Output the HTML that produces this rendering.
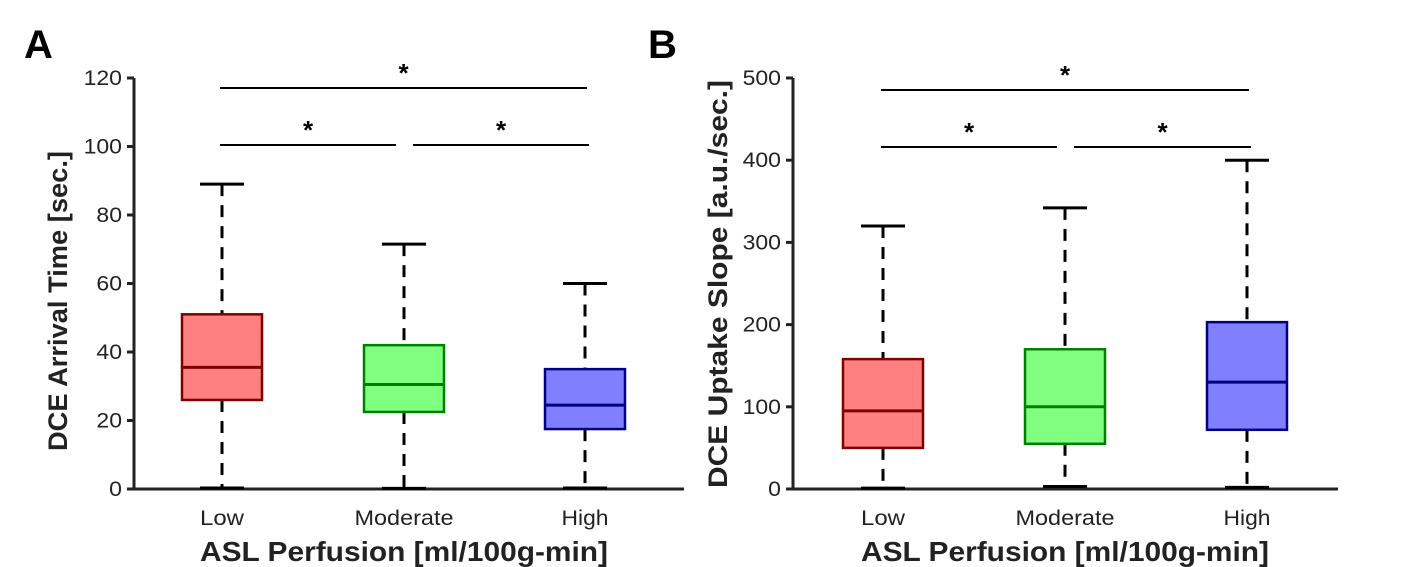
<!DOCTYPE html>
<html><head><meta charset="utf-8"><style>
html,body{margin:0;padding:0;background:#fff;}
svg{display:block;font-family:"Liberation Sans",Arial,sans-serif;}
</style></head><body>
<svg id="fig" width="1403" height="567" viewBox="0 0 1403 567"></svg>
<script>
const categories = ["Low","Moderate","High"];
const aMin = [0.3, 0.2, 0.3];
const aQ1 = [26, 22.5, 17.5];
const aMed = [35.5, 30.5, 24.5];
const aQ3 = [51, 42, 35];
const aMax = [89, 71.5, 60];
const aTicks = [0,20,40,60,80,100,120];
const bMin = [1, 3, 2];
const bQ1 = [50, 55, 72];
const bMed = [95, 100, 130];
const bQ3 = [158, 170, 203];
const bMax = [320, 342, 400];
const bTicks = [0,100,200,300,400,500];
const fills = ["#ff8080","#80ff80","#8080ff"];
const strokes = ["#800000","#008000","#000080"];
const catLen = [44, 99, 47];

const NS="http://www.w3.org/2000/svg";
const svg=document.getElementById('fig');
function mk(tag,attrs,parent){const e=document.createElementNS(NS,tag);for(const k in attrs)e.setAttribute(k,attrs[k]);(parent||svg).appendChild(e);return e;}

function panel(cfg){
  const g=mk('g',{});
  
  
  const y=v=>cfg.y0-(v-cfg.ymin)/(cfg.ymax-cfg.ymin)*(cfg.y0-cfg.ytop);
  const x=i=>cfg.xs[i];
  const L=mk('text',{x:cfg.letterX,y:58,'font-size':40,'font-weight':'bold',fill:'#000'},g);L.textContent=cfg.letter;
  
  
  const ax=mk('path',{d:`M${cfg.ax} ${cfg.ytop} V${cfg.y0} H${cfg.xend}`,stroke:'#222',fill:'none','stroke-width':3},g);
  
  
  cfg.ticks.forEach(t=>{
    mk('line',{x1:cfg.ax-7,x2:cfg.ax,y1:y(t),y2:y(t),stroke:'#222','stroke-width':3},g);
    const tx=mk('text',{x:cfg.ax-12,y:y(t)+7,'font-size':21,'text-anchor':'end',fill:'#222',textLength:String(t).length*12.8,lengthAdjust:'spacingAndGlyphs'},g);tx.textContent=t;
    
    
  });
  categories.forEach((c,i)=>{
    const bg=mk('g',{},g);
    
    
    const d=cfg.d;
    mk('line',{x1:x(i),x2:x(i),y1:y(d.max[i]),y2:y(d.q3[i]),stroke:'#000','stroke-width':3,'stroke-dasharray':'12,9'},bg);
    mk('line',{x1:x(i),x2:x(i),y1:y(d.q1[i]),y2:y(d.min[i]),stroke:'#000','stroke-width':3,'stroke-dasharray':'12,9'},bg);
    mk('line',{x1:x(i)-22,x2:x(i)+22,y1:y(d.max[i]),y2:y(d.max[i]),stroke:'#000','stroke-width':3},bg);
    mk('line',{x1:x(i)-22,x2:x(i)+22,y1:y(d.min[i]),y2:y(d.min[i]),stroke:'#000','stroke-width':3},bg);
    mk('rect',{x:x(i)-40,y:y(d.q3[i]),width:80,height:y(d.q1[i])-y(d.q3[i]),fill:fills[i],stroke:strokes[i],'stroke-width':2.5},bg);
    mk('line',{x1:x(i)-40,x2:x(i)+40,y1:y(d.med[i]),y2:y(d.med[i]),stroke:strokes[i],'stroke-width':3},bg);
    const cl=mk('text',{x:x(i),y:525,'font-size':21,'text-anchor':'middle',fill:'#222',textLength:catLen[i],lengthAdjust:'spacingAndGlyphs'},g);cl.textContent=c;
    
    
  });
  const sig=[[0,2,cfg.s1,0,0],[0,1,cfg.s2,0,-10],[1,2,cfg.s2,11,2]];
  sig.forEach(s=>{
    const x1=x(s[0])+s[3]-2, x2=x(s[1])+s[4]+2;
    const l=mk('line',{x1:x1,x2:x2,y1:s[2],y2:s[2],stroke:'#000','stroke-width':2},g);
    
    
    const st=mk('text',{x:(x1+x2)/2,y:s[2]-6,'font-size':26,'font-weight':'bold','text-anchor':'middle'},g);st.textContent='*';
    
    
  });
  const yt=mk('text',{x:0,y:0,'font-size':27,'font-weight':'bold','text-anchor':'middle',transform:`translate(${cfg.ytx},${cfg.ytc}) rotate(-90)`,fill:'#222',textLength:cfg.ytl,lengthAdjust:'spacingAndGlyphs'},g);
  yt.textContent=cfg.ytitle;
  
  
  const xt=mk('text',{x:x(1),y:561,'font-size':28,'font-weight':'bold','text-anchor':'middle',fill:'#222',textLength:408,lengthAdjust:'spacingAndGlyphs'},g);
  xt.textContent='ASL Perfusion [ml/100g-min]';
  
  
}
panel({id:'a',letter:'A',letterX:24,ax:134,xend:684,ytop:78,y0:489,ymin:0,ymax:120,xs:[222,404,585],ticks:aTicks,
  d:{min:aMin,q1:aQ1,med:aMed,q3:aQ3,max:aMax},s1:88,s2:145,ytx:67,ytc:301,ytl:300,ytitle:'DCE Arrival Time [sec.]'});
panel({id:'b',letter:'B',letterX:648,ax:793,xend:1338,ytop:78,y0:489,ymin:0,ymax:500,xs:[883,1065,1247],ticks:bTicks,
  d:{min:bMin,q1:bQ1,med:bMed,q3:bQ3,max:bMax},s1:90,s2:147,ytx:727,ytc:284,ytl:408,ytitle:'DCE Uptake Slope [a.u./sec.]'});
</script>
</body></html>
